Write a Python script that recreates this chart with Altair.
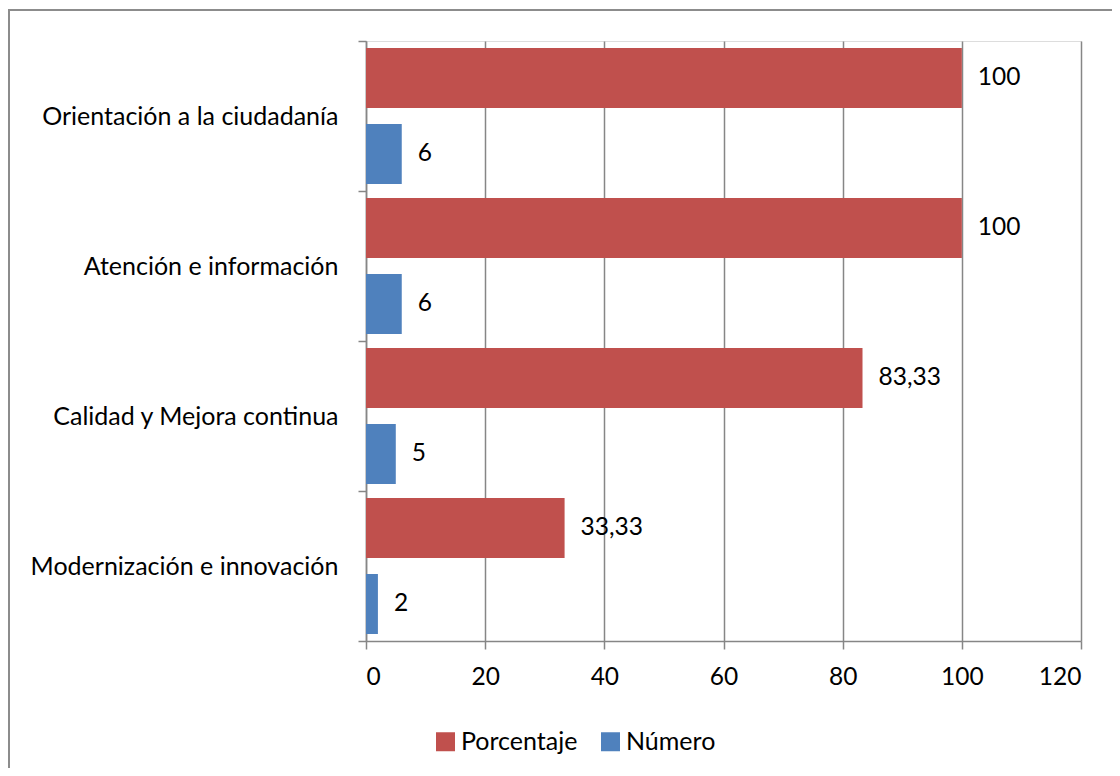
import altair as alt
import pandas as pd

categories = ["Orientación a la ciudadanía", "Atención e información",
              "Calidad y Mejora continua", "Modernización e innovación"]
series = ["Porcentaje", "Número"]
porcentaje = [100, 100, 83.33, 33.33]
numero = [6, 6, 5, 2]
colors = ["#C0504D", "#4F81BD"]
x_ticks = [0, 20, 40, 60, 80, 100, 120]

rows = []
for c, p, n in zip(categories, porcentaje, numero):
    rows.append({"cat": c, "serie": "Porcentaje", "valor": p,
                 "etiqueta": (f"{p:g}").replace(".", ",")})
    rows.append({"cat": c, "serie": "Número", "valor": n,
                 "etiqueta": (f"{n:g}").replace(".", ",")})
df = pd.DataFrame(rows)

FONT = "Lato"
W, H = 715, 600

y_enc = alt.Y("cat:N", sort=categories, title=None,
              scale=alt.Scale(paddingInner=0, paddingOuter=0),
              axis=alt.Axis(tickBand="extent", labelFontSize=25, labelColor="#000000",
                            labelFont=FONT, labelPadding=20, tickSize=8,
                            tickColor="#868686", domainColor="#868686",
                            tickWidth=1.5, domainWidth=1.5, grid=False,
                            labelLimit=400))
yoff_enc = alt.YOffset("serie:N", sort=series,
                       scale=alt.Scale(paddingInner=0.21, paddingOuter=0.092))
x_enc = alt.X("valor:Q", title=None,
              scale=alt.Scale(domain=[0, 120], nice=False),
              axis=alt.Axis(values=x_ticks, grid=True, gridColor="#868686",
                            gridWidth=1.5, tickSize=8, tickColor="#868686",
                            tickWidth=1.5, domainColor="#868686", domainWidth=1.5,
                            labelFontSize=24.5, labelColor="#000000", labelFont=FONT,
                            labelPadding=16))

base = alt.Chart(df)

bars = base.mark_bar(cornerRadius=0).encode(
    x=x_enc,
    y=y_enc,
    yOffset=yoff_enc,
    color=alt.Color("serie:N", sort=series,
                    scale=alt.Scale(domain=series, range=colors),
                    legend=alt.Legend(title=None, orient="none", legendX=67, legendY=688,
                                      direction="horizontal", symbolType="square",
                                      symbolSize=361, symbolStrokeWidth=0,
                                      labelFontSize=25, labelFont=FONT,
                                      labelColor="#000000", labelOffset=3,
                                      columnPadding=20, padding=0)),
)

labels = base.mark_text(align="left", baseline="middle", dx=16, fontSize=24.5,
                        font=FONT, color="#000000").encode(
    x="valor:Q",
    y=alt.Y("cat:N", sort=categories),
    yOffset=alt.YOffset("serie:N", sort=series),
    text="etiqueta:N",
)

frame = alt.Chart(alt.Data(values=[{}])).mark_rect(
    fill=None, stroke="#8c8c8c", strokeWidth=2).encode(
    x=alt.value(-357), x2=alt.value(W + 200),
    y=alt.value(-31), y2=alt.value(H + 300),
)

chart = alt.layer(bars, labels, frame).properties(
    width=W, height=H,
    autosize=alt.AutoSizeParams(type="none"),
    padding={"left": 358, "top": 33, "right": 31, "bottom": 127},
).configure_view(stroke=None).configure(background="#ffffff")

chart.save("out.html", embed_options={"renderer": "svg", "actions": False})
